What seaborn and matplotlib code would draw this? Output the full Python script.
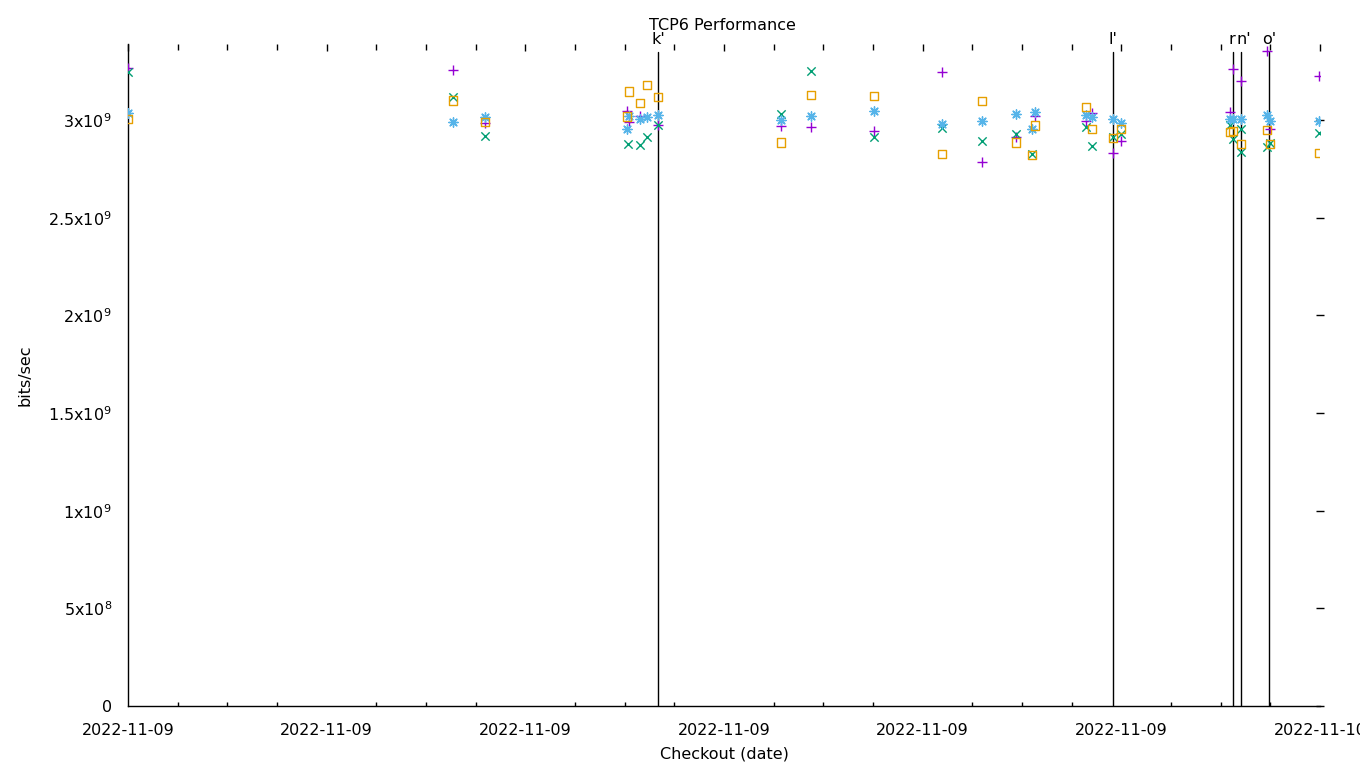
import matplotlib
matplotlib.use('Agg')
import matplotlib.pyplot as plt
import numpy as np
import pandas as pd
import seaborn as sns
from matplotlib.ticker import FixedLocator, MultipleLocator

sns.set_theme(style='white')
plt.rcParams['font.family'] = ['DejaVu Sans']
plt.rcParams['text.color'] = 'black'
plt.rcParams['axes.labelcolor'] = 'black'
plt.rcParams['xtick.color'] = 'black'
plt.rcParams['ytick.color'] = 'black'

# x in units of tick intervals from the start of the axis
purple_x = [0.0, 1.636, 1.797, 2.512, 2.522, 2.577, 2.668, 3.287, 3.438, 3.755, 4.097, 4.299, 4.470,
            4.565, 4.822, 4.852, 4.958, 4.998, 5.547, 5.562, 5.602, 5.733, 5.748, 5.995]
purple_y = [3.266, 3.256, 2.985, 3.046, 2.99, 3.02, 2.974, 2.97, 2.964, 2.944, 3.246, 2.785, 2.913,
            3.02, 2.995, 3.036, 2.831, 2.893, 3.041, 3.261, 3.2, 3.353, 2.954, 3.225]

green_x = [0.0, 1.636, 1.797, 2.517, 2.577, 2.612, 2.668, 3.287, 3.438, 3.755, 4.097, 4.299, 4.470,
           4.550, 4.822, 4.852, 4.958, 4.998, 5.547, 5.562, 5.602, 5.602, 5.733, 5.748, 5.995]
green_y = [3.246, 3.118, 2.92, 2.877, 2.872, 2.913, 2.974, 3.03, 3.251, 2.913, 2.959, 2.893, 2.928,
           2.826, 2.964, 2.867, 2.913, 2.928, 2.974, 2.903, 2.954, 2.836, 2.862, 2.882, 2.933]

blue_x = [0.0, 1.636, 1.797, 2.522, 2.512, 2.577, 2.612, 2.668, 3.287, 3.438, 3.755, 4.097, 4.299,
          4.470, 4.565, 4.550, 4.822, 4.852, 4.958, 4.998, 5.547, 5.562, 5.602, 5.733, 5.748, 5.995]
blue_y = [3.036, 2.99, 3.015, 3.02, 2.954, 3.005, 3.015, 3.026, 3.0, 3.02, 3.046, 2.98, 2.995,
          3.031, 3.041, 2.954, 3.026, 3.015, 3.005, 2.985, 3.005, 3.005, 3.005, 3.026, 2.995, 2.995]

orange_x = [0.0, 1.636, 1.797, 2.522, 2.612, 2.577, 2.668, 2.512, 3.287, 3.438, 3.755, 4.097, 4.299,
            4.470, 4.565, 4.550, 4.822, 4.852, 4.958, 4.998, 5.547, 5.562, 5.602, 5.733, 5.748, 5.995]
orange_y = [3.005, 3.10, 2.99, 3.148, 3.18, 3.087, 3.118, 3.02, 2.887, 3.128, 3.123, 2.826, 3.097,
            2.887, 2.974, 2.821, 3.067, 2.954, 2.908, 2.954, 2.939, 2.944, 2.877, 2.949, 2.877, 2.831]

event_x = [2.668, 4.958, 5.562, 5.602, 5.743]
event_labels = ["k'", "l'", "r", "n'", "o'"]

xtick_pos = [0, 1, 2, 3, 4, 5, 6]
xtick_labels = ['2022-11-09'] * 6 + ['2022-11-10']
ytick_vals = [0, 0.5, 1.0, 1.5, 2.0, 2.5, 3.0]
ytick_labels = ['0', '5x10$^{8}$', '1x10$^{9}$', '1.5x10$^{9}$', '2x10$^{9}$', '2.5x10$^{9}$', '3x10$^{9}$']

FS = 11.5
fig = plt.figure(figsize=(13.6, 7.68), dpi=100)
ax = fig.add_axes([128/1360, 62/768, 1192/1360, 662/768])

lw = 1.0
sns.scatterplot(x=np.array(purple_x), y=np.array(purple_y) * 1e9, marker='+', color='#9400d3',
                s=48, linewidth=lw, ax=ax, zorder=3)
sns.scatterplot(x=np.array(green_x), y=np.array(green_y) * 1e9, marker='x', color='#009e73',
                s=36, linewidth=lw, ax=ax, zorder=3)
sns.scatterplot(x=np.array(blue_x), y=np.array(blue_y) * 1e9, marker=(8, 2, 0), color='#56b4e9',
                s=45, linewidth=lw, ax=ax, zorder=3)
sns.scatterplot(x=np.array(orange_x), y=np.array(orange_y) * 1e9, marker='s', facecolors='none',
                edgecolor='#e69f00', s=38, linewidth=lw, ax=ax, zorder=3)

px = 6.0 / 1192.0  # one pixel in x data units
label_ha = ['center', 'center', 'right', 'left', 'center']
label_dx = [0, 0, 2.5 * px, -4.5 * px, 0]
for ex, lab, ha, dx in zip(event_x, event_labels, label_ha, label_dx):
    ax.plot([ex, ex], [0, 3.348e9], color='black', lw=1.0, zorder=2)
    ax.text(ex + dx, 3.415e9, lab, ha=ha, va='center', fontsize=FS, clip_on=False)

ax.set_xlim(0, 6)
ax.set_ylim(0, 3.39e9)
ax.xaxis.set_major_locator(FixedLocator(xtick_pos))
ax.set_xticklabels(xtick_labels, fontsize=FS)
ax.xaxis.set_minor_locator(MultipleLocator(0.25))
ax.yaxis.set_major_locator(FixedLocator([v * 1e9 for v in ytick_vals]))
ax.set_yticklabels(ytick_labels, fontsize=FS)

for s in ['top', 'right']:
    ax.spines[s].set_visible(False)
for s in ['left', 'bottom']:
    ax.spines[s].set_color('black')
    ax.spines[s].set_linewidth(1.0)

ax.tick_params(axis='both', which='major', direction='out', length=4.5, width=1)
ax.tick_params(axis='x', which='major', pad=8)
ax.tick_params(axis='y', which='major', pad=7)
ax.tick_params(axis='x', which='minor', direction='in', length=3, width=1, bottom=True)

secx = ax.secondary_xaxis('top')
secx.xaxis.set_major_locator(FixedLocator(xtick_pos))
secx.xaxis.set_minor_locator(MultipleLocator(0.25))
secx.tick_params(which='major', direction='in', length=5, width=1, labeltop=False)
secx.tick_params(which='minor', direction='in', length=4, width=1)
secx.spines['top'].set_visible(False)

secy = ax.secondary_yaxis('right')
secy.yaxis.set_major_locator(FixedLocator([v * 1e9 for v in ytick_vals]))
secy.tick_params(which='major', direction='inout', length=6, width=1, labelright=False)
secy.spines['right'].set_visible(False)

ax.set_xlabel('Checkout (date)', fontsize=FS, labelpad=6)
ax.set_ylabel('bits/sec', fontsize=FS, labelpad=11)
fig.text(722/1360, 1 - 25/768, 'TCP6 Performance', ha='center', va='center', fontsize=FS)

fig.savefig('out.png', dpi=100)
